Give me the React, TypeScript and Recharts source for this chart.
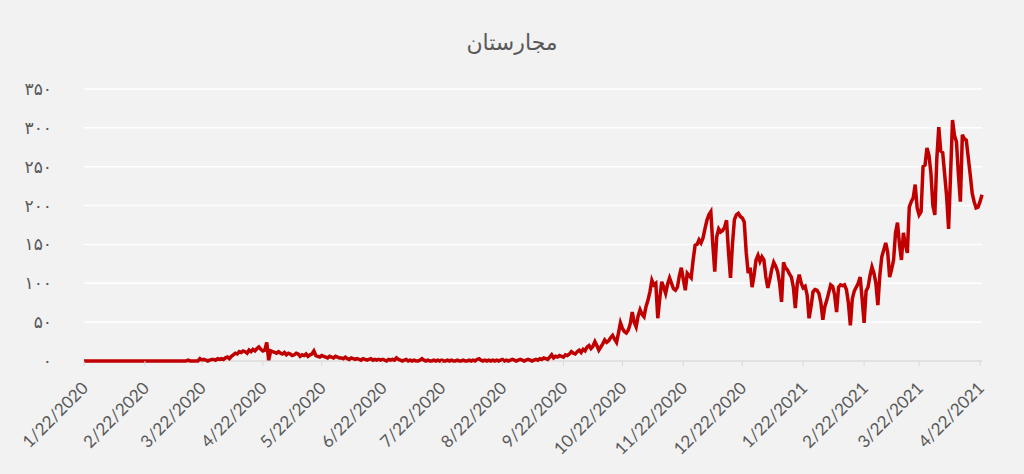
import { LineChart, Line, XAxis, YAxis, CartesianGrid } from 'recharts';

// daily values, one array per calendar month (first one starts on the 22nd)
const jan2020 = [0, 0, 0, 0, 0, 0, 0, 0, 0, 0];
const feb2020 = [0, 0, 0, 0, 0, 0, 0, 0, 0, 0, 0, 0, 0, 0, 0, 0, 0, 0, 0, 0, 0, 0, 0, 0, 0, 0, 0, 0, 0];
const mar2020 = [0, 0, 0, 0, 0, 0, 0, 0, 0, 0, 0, 0, 0, 0, 1, 0, 0, 0, 0, 0, 3, 1, 2, 1, 0, 1, 2, 2, 1, 3, 2];
const apr2020 = [3, 2, 4, 5, 3, 6, 8, 10, 9, 12, 11, 13, 12, 10, 14, 12, 15, 13, 16, 18, 15, 13, 14, 24, 1, 13, 12, 11, 10, 12];
const may2020 = [10, 9, 11, 8, 10, 9, 7, 8, 10, 9, 6, 8, 7, 9, 6, 8, 9, 13, 7, 6, 5, 7, 6, 5, 4, 6, 5, 4, 6, 5, 4];
const jun2020 = [4, 3, 5, 3, 2, 4, 3, 2, 3, 2, 1, 3, 2, 1, 2, 3, 1, 2, 1, 2, 1, 2, 1, 0, 2, 1, 2, 1, 4, 2];
const jul2020 = [1, 0, 1, 2, 0, 1, 0, 1, 0, 0, 1, 3, 1, 0, 1, 0, 0, 1, 0, 1, 0, 1, 0, 0, 1, 0, 1, 0, 0, 1, 0];
const aug2020 = [0, 1, 0, 0, 1, 0, 1, 0, 2, 3, 1, 0, 1, 0, 1, 0, 1, 0, 1, 0, 1, 2, 0, 1, 0, 1, 2, 1, 0, 1, 2];
const sep2020 = [1, 0, 1, 2, 1, 0, 1, 2, 1, 3, 2, 4, 3, 2, 5, 8, 4, 6, 5, 7, 6, 5, 8, 7, 9, 12, 10, 9, 12, 14];
const oct2020 = [11, 15, 13, 18, 20, 16, 19, 25, 20, 14, 18, 22, 27, 24, 26, 30, 33, 28, 24, 36, 49, 42, 38, 36, 40, 48, 63, 50, 44, 58, 66];
const nov2020 = [60, 57, 70, 78, 89, 104, 98, 100, 55, 80, 102, 95, 87, 99, 107, 100, 93, 91, 95, 110, 120, 105, 91, 113, 110, 107, 130, 149, 150, 156];
const dec2020 = [152, 158, 170, 181, 188, 192, 150, 115, 160, 170, 166, 168, 172, 181, 140, 107, 150, 182, 188, 190, 186, 184, 179, 140, 113, 120, 95, 110, 130, 136, 128];
const jan2021 = [134, 130, 108, 94, 105, 118, 127, 122, 115, 100, 76, 127, 120, 117, 112, 108, 95, 68, 100, 111, 100, 94, 96, 85, 55, 70, 89, 92, 91, 87, 75];
const feb2021 = [53, 70, 78, 88, 98, 96, 85, 63, 95, 98, 97, 98, 92, 75, 46, 80, 90, 95, 100, 108, 80, 49, 90, 95, 110, 121, 113, 100];
const mar2021 = [72, 110, 134, 143, 152, 140, 108, 118, 130, 165, 178, 150, 130, 165, 150, 139, 198, 205, 210, 227, 197, 188, 192, 250, 252, 274, 265, 242, 200, 188, 260];
const apr2021 = [301, 270, 268, 240, 212, 170, 240, 310, 290, 282, 240, 205, 291, 286, 284, 262, 240, 216, 205, 197, 198, 205, 214];

const tickLabels = [
  '1/22/2020', '2/22/2020', '3/22/2020', '4/22/2020', '5/22/2020', '6/22/2020', '7/22/2020', '8/22/2020',
  '9/22/2020', '10/22/2020', '11/22/2020', '12/22/2020', '1/22/2021', '2/22/2021', '3/22/2021', '4/22/2021',
];
const yTicks = [0, 50, 100, 150, 200, 250, 300, 350];

const allValues = [
  ...jan2020, ...feb2020, ...mar2020, ...apr2020, ...may2020, ...jun2020, ...jul2020, ...aug2020,
  ...sep2020, ...oct2020, ...nov2020, ...dec2020, ...jan2021, ...feb2021, ...mar2021, ...apr2021,
];
const data = allValues.map((v, day) => ({ day, v }));

const dayOf = (label: string) => {
  const [m, d, y] = label.split('/').map(Number);
  return Math.round((Date.UTC(y, m - 1, d) - Date.UTC(2020, 0, 22)) / 86400000);
};
const tickDays = tickLabels.map(dayOf);

const faDigits = '۰۱۲۳۴۵۶۷۸۹';
const toFa = (n: number) => String(n).replace(/\d/g, (c) => faDigits[Number(c)]);

const XTick = ({ x, y, payload }: any) => {
  const i = tickDays.indexOf(payload.value);
  return (
    <text
      x={x + 1}
      y={y}
      dy="0.35em"
      transform={`rotate(-45 ${x + 1} ${y})`}
      textAnchor="end"
      fill="#595959"
      fontSize={17}
      fontFamily="Lato"
    >
      {tickLabels[i]}
    </text>
  );
};

const App = () => {
  return (
    <div style={{ position: 'absolute', left: 0, top: 0, width: 1024, height: 474, background: '#f2f2f2' }}>
      <div
        style={{
          position: 'absolute',
          top: 28,
          width: 1024,
          textAlign: 'center',
          fontFamily: 'DejaVu Sans',
          fontSize: 22,
          color: '#595959',
          lineHeight: '30px',
        }}
      >
        مجارستان
      </div>
      <LineChart width={1024} height={474} data={data} margin={{ top: 89, right: 42, bottom: 0, left: 0 }}>
        <CartesianGrid horizontal vertical={false} stroke="#ffffff" strokeWidth={1.5} />
        <CartesianGrid horizontal vertical={false} horizontalValues={[0]} stroke="#d9d9d9" strokeWidth={1.5} />
        <XAxis
          type="number"
          dataKey="day"
          domain={[0, 457]}
          ticks={tickDays}
          interval={0}
          height={113}
          tick={<XTick />}
          tickSize={5}
          tickMargin={19}
          axisLine={false}
          tickLine={{ stroke: '#d9d9d9' }}
        />
        <YAxis
          domain={[0, 350]}
          ticks={yTicks}
          width={84}
          axisLine={false}
          tickLine={false}
          tickSize={0}
          tickMargin={32}
          tickFormatter={toFa}
          tick={{ fill: '#595959', fontSize: 17, fontFamily: 'DejaVu Sans' }}
        />
        <Line
          type="linear"
          dataKey="v"
          stroke="#c00000"
          strokeWidth={3.5}
          dot={false}
          isAnimationActive={false}
        />
      </LineChart>
    </div>
  );
};

export default App;
